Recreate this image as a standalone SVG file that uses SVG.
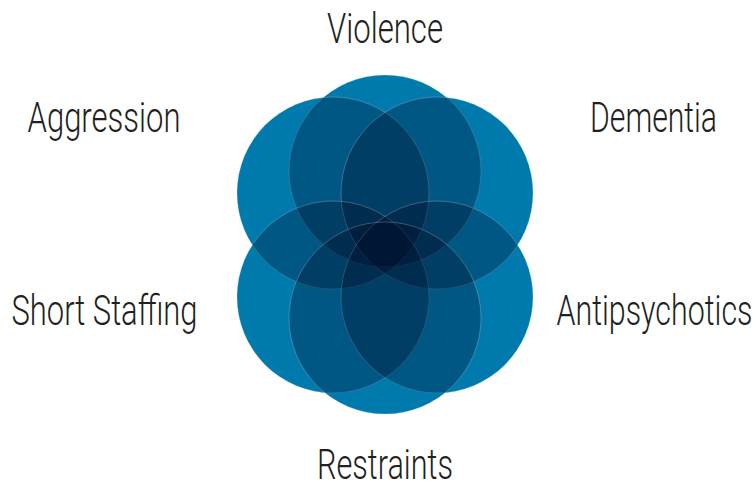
<svg xmlns="http://www.w3.org/2000/svg" width="756" height="481" viewBox="0 0 756 481">
  <style>
    .base { fill: #00a8e7; }
    .ov { fill: #000019; fill-opacity: 0.28; stroke: #ffffff; stroke-opacity: 0.38; stroke-width: 0.6; }
    .lbl { font-family: Roboto, "Liberation Sans", sans-serif; font-weight: 300; font-size: 43px; fill: #231f20; text-anchor: middle; }
  </style>
  <defs>
    <circle id="c-violence" cx="385" cy="171" r="96"/>
    <circle id="c-aggression" cx="333" cy="193" r="96"/>
    <circle id="c-dementia" cx="437" cy="193" r="96"/>
    <circle id="c-short" cx="333" cy="297" r="96"/>
    <circle id="c-anti" cx="437" cy="297" r="96"/>
    <circle id="c-restraints" cx="385" cy="318" r="96"/>
  </defs>
  <rect width="756" height="481" fill="#ffffff"/>
  <g id="base-layer" class="base">
    <use href="#c-violence"/>
    <use href="#c-aggression"/>
    <use href="#c-dementia"/>
    <use href="#c-short"/>
    <use href="#c-anti"/>
    <use href="#c-restraints"/>
  </g>
  <g id="connectors"/>
  <g id="node-violence">
    <use href="#c-violence" class="ov"/>
    <text class="lbl" x="385" y="43" textLength="116" lengthAdjust="spacingAndGlyphs">Violence</text>
  </g>
  <g id="node-aggression">
    <use href="#c-aggression" class="ov"/>
    <text class="lbl" x="104" y="132" textLength="153" lengthAdjust="spacingAndGlyphs">Aggression</text>
  </g>
  <g id="node-dementia">
    <use href="#c-dementia" class="ov"/>
    <text class="lbl" x="653.5" y="132" textLength="127" lengthAdjust="spacingAndGlyphs">Dementia</text>
  </g>
  <g id="node-short-staffing">
    <use href="#c-short" class="ov"/>
    <text class="lbl" x="104.5" y="325" textLength="186" lengthAdjust="spacingAndGlyphs">Short Staffing</text>
  </g>
  <g id="node-antipsychotics">
    <use href="#c-anti" class="ov"/>
    <text class="lbl" x="654.5" y="325" textLength="196" lengthAdjust="spacingAndGlyphs">Antipsychotics</text>
  </g>
  <g id="node-restraints">
    <use href="#c-restraints" class="ov"/>
    <text class="lbl" x="385" y="479" textLength="136" lengthAdjust="spacingAndGlyphs">Restraints</text>
  </g>
</svg>
